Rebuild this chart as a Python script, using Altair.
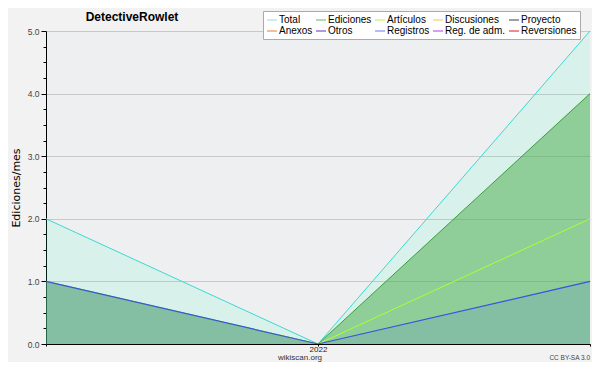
import json
import altair as alt
import pandas as pd

# ---- data ----
months = ["2021-12", "2022-01", "2022-02"]
x_labels = ["", "2022", ""]
total = [2, 0, 5]
ediciones = [1, 0, 4]
articulos = [1, 0, 2]
registros = [1, 0, 1]

legend_names = ["Total", "Ediciones", "Artículos", "Discusiones", "Proyecto",
                "Anexos", "Otros", "Registros", "Reg. de adm.", "Reversiones"]
legend_colors = ["#a8e4e0", "#80c080", "#c8f070", "#f0d070", "#606060",
                 "#f09050", "#8050d0", "#8090f0", "#c060e0", "#e04040"]

title_text = "DetectiveRowlet"
y_title = "Ediciones/mes"
source_text = "wikiscan.org"
license_text = "CC BY-SA 3.0"
y_ticks = [i * 0.25 for i in range(21)]

series_data = [("Total", total), ("Ediciones", ediciones),
               ("Artículos", articulos), ("Registros", registros)]
rows = []
for name, vals in series_data:
    for i, (m, v) in enumerate(zip(months, vals)):
        rows.append({"idx": i, "month": m, "series": name, "value": v})
df = pd.DataFrame(rows)

FONT = "Liberation Sans"

x_enc = alt.X(
    "idx:Q",
    scale=alt.Scale(domain=[0, len(months) - 1], nice=False, zero=False),
    axis=alt.Axis(
        values=list(range(len(months))),
        labelExpr=f"{json.dumps(x_labels)}[datum.value]",
        title=None, tickSize=2, grid=False, labelFontSize=8, labelPadding=-1,
        labelColor="#222222", domainColor="black", tickColor="black",
        labelFont=FONT, labelOverlap=False, labelFlush=False, zindex=1,
    ),
)
y_enc = alt.Y(
    "value:Q",
    scale=alt.Scale(domain=[0, 5], nice=False),
    axis=alt.Axis(
        values=y_ticks,
        labelExpr="datum.value % 1 === 0 ? format(datum.value, '.1f') : ''",
        tickSize={"condition": {"test": "datum.value % 1 === 0", "value": 5}, "value": 3},
        gridOpacity={"condition": {"test": "datum.value % 1 === 0", "value": 1}, "value": 0},
        gridColor="#c8c8c8", title=y_title, titleX=-25, titleFont="DejaVu Sans",
        titleFontSize=11, titleFontWeight="normal", titleColor="black",
        labelFont=FONT, labelFontSize=8.5, labelColor="#444444", labelPadding=2,
        domainColor="black", tickColor="black", labelOverlap=False, labelFlush=False,
    ),
)

base = alt.Chart(df)


def area(name, color, op):
    return base.transform_filter(alt.datum.series == name).mark_area(
        color=color, opacity=op
    ).encode(x=x_enc, y=y_enc)


def line(name, color, w=1.0):
    return base.transform_filter(alt.datum.series == name).mark_line(
        color=color, strokeWidth=w
    ).encode(x=x_enc, y=y_enc)


# legend layer (single-point lines draw nothing; only provide the legend)
leg_df = pd.DataFrame({"series": legend_names, "idx": [0] * len(legend_names),
                       "value": [0] * len(legend_names)})
legend_layer = alt.Chart(leg_df).mark_line(strokeWidth=1).encode(
    x=x_enc, y=y_enc,
    color=alt.Color(
        "series:N",
        scale=alt.Scale(domain=legend_names, range=legend_colors),
        sort=None,
        legend=alt.Legend(
            title=None, orient="none", legendX=217, legendY=-20, columns=5,
            direction="horizontal",
            fillColor="white", strokeColor="#aaaaaa", padding=3,
            columnPadding=0, rowPadding=-2, labelFont=FONT, labelFontSize=10,
            labelColor="black", labelOffset=1, symbolType="stroke",
            symbolSize=100, symbolStrokeWidth=1.2, labelLimit=200,
        ),
    ),
)

txt_df = pd.DataFrame({"t": [title_text]})
title_layer = alt.Chart(txt_df).mark_text(
    font=FONT, fontSize=12, fontWeight="bold", color="black", align="center",
    baseline="middle"
).encode(text="t:N", x=alt.value(86), y=alt.value(-14))

src_layer = alt.Chart(pd.DataFrame({"t": [source_text]})).mark_text(
    font=FONT, fontSize=8, color="#333333", align="center", baseline="middle"
).encode(text="t:N", x=alt.value(254), y=alt.value(327))

lic_layer = alt.Chart(pd.DataFrame({"t": [license_text]})).mark_text(
    font=FONT, fontSize=6.5, color="#444444", align="right", baseline="middle"
).encode(text="t:N", x=alt.value(544), y=alt.value(327))

chart = alt.layer(
    area("Total", "#40ffd0", 0.12),
    area("Ediciones", "#46ac46", 0.5),
    area("Registros", "#4060f0", 0.13),
    line("Total", "#3cd8d0"),
    line("Ediciones", "#3c9f3c"),
    line("Artículos", "#adff2f"),
    line("Registros", "#3355e0", 1.2),
    legend_layer,
    title_layer,
    src_layer,
    lic_layer,
).properties(
    width=544, height=313,
    autosize=alt.AutoSizeParams(type="none"),
    padding={"left": 38, "top": 23, "right": 2, "bottom": 18},
    background="#f2f2f2",
).configure_view(
    stroke=None, fill="#eeeff0"
)

chart.save("out.html", embed_options={"renderer": "svg", "actions": False})
